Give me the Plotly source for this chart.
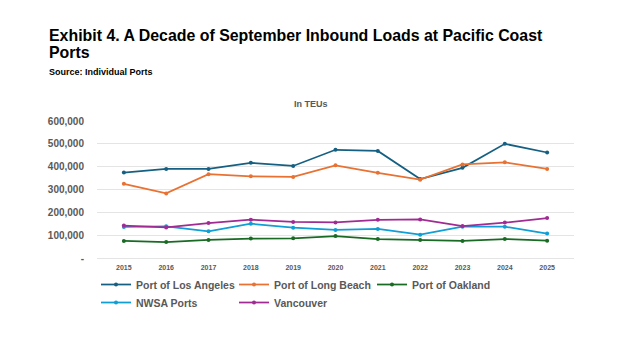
import plotly.graph_objects as go

years = ["2015", "2016", "2017", "2018", "2019", "2020", "2021", "2022", "2023", "2024", "2025"]
los_angeles = [374000, 390000, 390000, 417000, 403000, 474000, 469000, 346000, 395000, 500000, 462000]
long_beach = [325000, 283000, 367000, 358000, 355000, 406000, 373000, 343000, 410000, 419000, 390000]
oakland = [75000, 70000, 79000, 85000, 86000, 96000, 83000, 79000, 75000, 83000, 76000]
nwsa = [136000, 139000, 117000, 150000, 133000, 123000, 127000, 102000, 137000, 137000, 107000]
vancouver = [142000, 134000, 153000, 168000, 158000, 156000, 167000, 169000, 140000, 155000, 175000]

series = [
    ("Port of Los Angeles", los_angeles, "#156082", "legend"),
    ("Port of Long Beach", long_beach, "#E97132", "legend"),
    ("Port of Oakland", oakland, "#196B24", "legend"),
    ("NWSA Ports", nwsa, "#0F9ED5", "legend2"),
    ("Vancouver", vancouver, "#A02B93", "legend2"),
]

ytick_vals = [0, 100000, 200000, 300000, 400000, 500000, 600000]
ytick_text = ["-", "100,000", "200,000", "300,000", "400,000", "500,000", "600,000"]

FONT = "Liberation Sans"
GRAY = "#595959"

fig = go.Figure()
for name, vals, color, lg in series:
    fig.add_trace(go.Scatter(
        x=years, y=vals, name=name, mode="lines+markers",
        line=dict(color=color, width=1.75),
        marker=dict(color=color, size=4),
        legend=lg,
    ))

W, H = 624, 351
L, R, T, B = 97, 50, 121, 93

def px_x(px):
    return (px - L) / (W - L - R)

def px_y(py):
    return (H - B - py) / (H - T - B)

legend_common = dict(
    orientation="h", xanchor="left", yanchor="top",
    font=dict(size=10.5, color=GRAY, family=FONT, weight="bold"),
    entrywidth=93, itemwidth=30, tracegroupgap=0,
    bgcolor="rgba(0,0,0,0)",
)

fig.update_layout(
    width=W, height=H,
    margin=dict(l=L, r=R, t=T, b=B),
    paper_bgcolor="white", plot_bgcolor="white",
    font=dict(family=FONT, color=GRAY),
    showlegend=True,
    legend=dict(x=px_x(96), y=px_y(270), **legend_common),
    legend2=dict(x=px_x(96), y=px_y(288), **legend_common),
    xaxis=dict(
        type="category", showgrid=False, showline=False, ticks="",
        tickfont=dict(size=7, color=GRAY, family=FONT, weight="bold"),
        ticklabelstandoff=4,
        fixedrange=True,
    ),
    yaxis=dict(
        range=[0, 600000], tickvals=ytick_vals, ticktext=ytick_text,
        showgrid=True, gridcolor="#E4E4E4", gridwidth=1,
        zeroline=True, zerolinecolor="#E4E4E4", zerolinewidth=1,
        showline=False, ticks="",
        tickfont=dict(size=10, color=GRAY, family=FONT, weight="bold"),
        ticklabelstandoff=12,
    ),
    annotations=[
        dict(text="Exhibit 4. A Decade of September Inbound Loads at Pacific Coast",
             xref="paper", yref="paper", x=px_x(47), y=px_y(35), xanchor="left", yanchor="middle",
             showarrow=False, font=dict(size=15.9, color="black", family=FONT, weight="bold")),
        dict(text="Ports",
             xref="paper", yref="paper", x=px_x(47), y=px_y(52), xanchor="left", yanchor="middle",
             showarrow=False, font=dict(size=15.9, color="black", family=FONT, weight="bold")),
        dict(text="Source: Individual Ports",
             xref="paper", yref="paper", x=px_x(47), y=px_y(72), xanchor="left", yanchor="middle",
             showarrow=False, font=dict(size=9, color="black", family=FONT, weight="bold")),
        dict(text="In TEUs",
             xref="paper", yref="paper", x=px_x(311), y=px_y(104), xanchor="center", yanchor="middle",
             showarrow=False, font=dict(size=9, color=GRAY, family=FONT, weight="bold")),
    ],
)

fig.write_html("out.html")
